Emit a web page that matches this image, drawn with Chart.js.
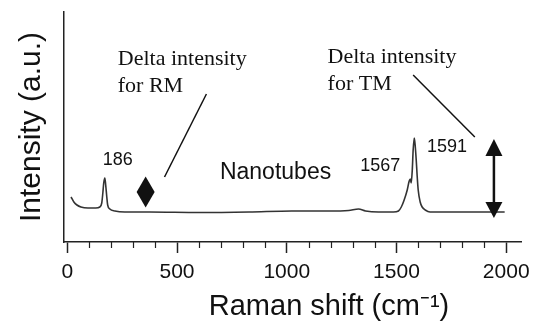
<!DOCTYPE html>
<html>
<head>
<meta charset="utf-8">
<script src="https://cdn.jsdelivr.net/npm/chart.js@4.4.0/dist/chart.umd.min.js"></script>
<style>
  html, body { margin: 0; padding: 0; background: #fff; }
  #wrap { width: 537px; height: 322px; }
</style>
</head>
<body>
<div id="wrap"><canvas id="chart1"></canvas></div>
<script>
// Espectro Raman (x en cm-1, intensidad en u.a.)
const ramanShift = [17, 30, 44, 62, 94, 130, 148, 157, 162, 166,
  171, 175, 180, 184, 194, 217, 262, 375, 601, 828,
  1023, 1191, 1282, 1327, 1359, 1418, 1486, 1509, 1522, 1535,
  1549, 1558, 1563, 1567, 1572, 1576, 1581, 1585, 1590, 1594,
  1599, 1608, 1617, 1631, 1653, 1735, 1871, 1993];
const intensity = [45, 40, 37, 35, 34, 34, 35, 39, 49, 59,
  64, 57, 45, 37, 33, 31, 30, 30, 29.5, 30,
  31, 31, 31.5, 33, 31, 30, 30, 31, 35, 42,
  52, 61, 63, 59, 72, 92, 104, 97, 82, 67,
  52, 40, 35, 32, 30, 30, 30, 30];

const xTickValues = [0, 500, 1000, 1500, 2000];
const xMinorTicks = [100, 200, 300, 400, 600, 700, 800, 900, 1100, 1200, 1300, 1400, 1600, 1700, 1800, 1900];

const peakLabels = ['186', '1567', '1591'];
const peakLabelX = [230, 1426, 1730];
const peakLabelY = [82, 76, 95];

const sampleLabel = 'Nanotubes';
const noteTexts = [['Delta intensity', 'for RM'], ['Delta intensity', 'for TM']];

// anclas de las anotaciones, en unidades de los ejes
const noteAnchors = [{ x: 230, y: 177 }, { x: 1186, y: 179 }];
const leaderLines = [
  { from: { x: 634, y: 148 }, to: { x: 443, y: 65 } },
  { from: { x: 1576, y: 167 }, to: { x: 1857, y: 105 } }
];
const diamondAt = { x: 357, y: 50 };
const arrowAt = { x: 1944, low: 24, high: 103 };

const SANS = '"Liberation Sans", Arial, sans-serif';
const SERIF = '"Liberation Serif", "Times New Roman", serif';
const INK = '#111';

const annotationsPlugin = {
  id: 'annotations',
  afterDraw(chart) {
    const { ctx, chartArea } = chart;
    const xs = chart.scales.x, ys = chart.scales.y;
    const px = v => xs.getPixelForValue(v);
    const py = v => ys.getPixelForValue(v);
    ctx.save();

    // ticks menores del eje x
    ctx.strokeStyle = '#222';
    ctx.lineWidth = 1.2;
    xMinorTicks.forEach(v => {
      const xx = Math.round(px(v)) + 0.5;
      ctx.beginPath();
      ctx.moveTo(xx, chartArea.bottom);
      ctx.lineTo(xx, chartArea.bottom + 6);
      ctx.stroke();
    });

    ctx.fillStyle = INK;
    ctx.textAlign = 'center';
    ctx.textBaseline = 'middle';
    ctx.font = '18px ' + SANS;
    peakLabels.forEach((t, i) => ctx.fillText(t, px(peakLabelX[i]), py(peakLabelY[i])));

    ctx.font = '23px ' + SANS;
    ctx.fillText(sampleLabel, px(949), py(69.5));

    // textos "Delta intensity"
    ctx.font = '22px ' + SERIF;
    ctx.textAlign = 'left';
    ctx.textBaseline = 'alphabetic';
    noteTexts.forEach((lines, i) => {
      lines.forEach((l, j) => ctx.fillText(l, px(noteAnchors[i].x), py(noteAnchors[i].y) + j * 27));
    });

    ctx.strokeStyle = INK;
    ctx.lineWidth = 1.5;
    leaderLines.forEach(ln => {
      ctx.beginPath();
      ctx.moveTo(px(ln.from.x), py(ln.from.y));
      ctx.lineTo(px(ln.to.x), py(ln.to.y));
      ctx.stroke();
    });

    // rombo (RM)
    const dx = px(diamondAt.x), dy = py(diamondAt.y);
    ctx.beginPath();
    ctx.moveTo(dx, dy - 15.5);
    ctx.lineTo(dx + 9, dy);
    ctx.lineTo(dx, dy + 15.5);
    ctx.lineTo(dx - 9, dy);
    ctx.closePath();
    ctx.fill();

    // flecha doble (TM)
    const ax = px(arrowAt.x), top = py(arrowAt.high), bot = py(arrowAt.low);
    ctx.lineWidth = 2.5;
    ctx.beginPath();
    ctx.moveTo(ax, top + 15);
    ctx.lineTo(ax, bot - 15);
    ctx.stroke();
    ctx.beginPath();
    ctx.moveTo(ax, top);
    ctx.lineTo(ax + 8.5, top + 17);
    ctx.lineTo(ax - 8.5, top + 17);
    ctx.closePath();
    ctx.fill();
    ctx.beginPath();
    ctx.moveTo(ax, bot);
    ctx.lineTo(ax + 8.5, bot - 16);
    ctx.lineTo(ax - 8.5, bot - 16);
    ctx.closePath();
    ctx.fill();

    // titulo del eje x
    ctx.font = '29px ' + SANS;
    ctx.textAlign = 'center';
    ctx.fillText('Raman shift (cm⁻¹)', chartArea.left + 265, chartArea.bottom + 73);

    ctx.restore();
  }
};

const ctx = document.getElementById('chart1').getContext('2d');
new Chart(ctx, {
  type: 'line',
  data: {
    datasets: [{
      data: ramanShift.map((v, i) => ({ x: v, y: intensity[i] })),
      borderColor: '#333',
      borderWidth: 1.6,
      pointRadius: 0,
      fill: false,
      cubicInterpolationMode: 'monotone'
    }]
  },
  options: {
    animation: false,
    responsive: true,
    maintainAspectRatio: false,
    layout: { padding: { top: 12, right: 13, left: 0, bottom: 0 } },
    plugins: { legend: { display: false }, tooltip: { enabled: false } },
    scales: {
      x: {
        type: 'linear',
        position: 'bottom',
        min: -15,
        max: 2070,
        afterBuildTicks: s => { s.ticks = xTickValues.map(v => ({ value: v })); },
        afterFit: s => { s.height = 80; },
        ticks: {
          autoSkip: false,
          maxRotation: 0,
          padding: 7,
          color: INK,
          font: { family: SANS, size: 21 },
          callback: v => String(v)
        },
        grid: { drawOnChartArea: false, tickLength: 11, tickColor: '#222', tickWidth: 1.5 },
        border: { display: true, color: '#222', width: 1.5 }
      },
      y: {
        min: 0,
        max: 230,
        afterFit: s => { s.width = 64; },
        ticks: { display: false },
        grid: { display: false },
        border: { display: true, color: '#222', width: 1.5 },
        title: {
          display: true,
          text: 'Intensity (a.u.)',
          color: INK,
          padding: { top: 14 },
          font: { family: SANS, size: 30 }
        }
      }
    }
  },
  plugins: [annotationsPlugin]
});
</script>
</body>
</html>
